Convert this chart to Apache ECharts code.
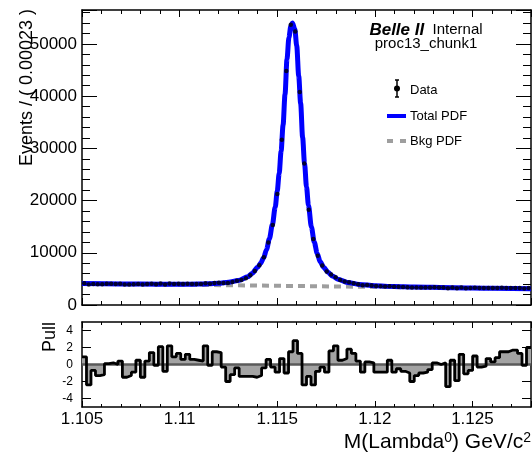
<!DOCTYPE html>
<html>
<head>
<meta charset="utf-8">
<script src="https://cdn.jsdelivr.net/npm/echarts@6/dist/echarts.min.js"></script>
<style>
html,body{margin:0;padding:0;background:#fff;}
#c{width:532px;height:455px;}
</style>
</head>
<body>
<div id="c"></div>
<script>
// ---- binning (from axis title: Events / (0.00023), 100 bins) ----
const xMin = 1.105;
const xMax = 1.128;
const binWidth = 0.00023;

// ---- data: events per bin ----
const dataCounts = [
  4161, 3940, 4041, 3994, 3991, 4066, 4064, 4042, 4060, 3932,
  3937, 3955, 4038, 3905, 4019, 4078, 3978, 4111, 3925, 4113,
  4030, 4053, 4012, 4055, 4025, 4029, 4036, 4177, 4062, 4207,
  4260, 4233, 4233, 4410, 4623, 4798, 5135, 5675, 6494, 7613,
  9159, 11992, 15301, 21247, 31643, 44798, 53695, 52375, 40790, 27122,
  18220, 12626, 9423, 7575, 6418, 5834, 5300, 4777, 4509, 4364,
  4167, 3978, 3806, 3807, 3736, 3620, 3582, 3547, 3600, 3487,
  3485, 3445, 3412, 3332, 3356, 3361, 3353, 3356, 3390, 3364,
  3363, 3186, 3354, 3203, 3369, 3227, 3238, 3324, 3240, 3234,
  3274, 3240, 3259, 3288, 3276, 3277, 3266, 3234, 3145, 3253
];

// ---- pull per bin ----
const pullValues = [
   0.9, -2.4, -0.7, -1.3, -1.2,  0.1,  0.2,  0.0,  0.4, -1.5,
  -1.3, -0.9,  0.5, -1.5,  0.4,  1.4, -0.1,  2.1, -0.8,  2.2,
   0.9,  1.3,  0.6,  1.2,  0.6,  0.5,  0.4,  2.2, -0.1,  1.5,
   1.4, -0.3, -2.0, -1.2, -0.4, -1.4, -1.4, -1.4, -1.5, -1.3,
  -0.4,  0.6, -0.3, -0.9,  0.7, -1.0,  1.5,  2.8,  1.3, -2.4,
  -1.4, -2.4, -0.8, -0.3, -0.9,  1.6,  2.2,  0.5,  0.7,  1.8,
   1.3,  0.4, -0.9,  0.3,  0.2, -0.9, -0.9, -0.9,  0.5, -0.9,
  -0.5, -0.8, -1.0, -2.0, -1.3, -1.0, -0.9, -0.6,  0.2,  0.0,
   0.2, -2.6,  0.5, -1.9,  1.2, -1.1, -0.7,  1.0, -0.3, -0.2,
   0.7,  0.3,  0.8,  1.5,  1.5,  1.7,  1.7,  1.3, -0.1,  2.0
];

// ---- Total PDF curve (mass, events) ----
const pdfMass = [
  1.105, 1.107, 1.109, 1.110, 1.111, 1.1115, 1.112, 1.1125, 1.113, 1.1135,
  1.1137, 1.1140, 1.11415, 1.1143, 1.11445, 1.1146, 1.11475, 1.1149, 1.1150, 1.1151,
  1.1152, 1.1153, 1.1154, 1.1155, 1.1156, 1.1157, 1.11578, 1.1159, 1.1160, 1.1161,
  1.1162, 1.1163, 1.1164, 1.1165, 1.1166, 1.11675, 1.1169, 1.11705, 1.1172, 1.1174,
  1.1176, 1.11785, 1.1181, 1.1186, 1.1192, 1.120, 1.121, 1.122, 1.124, 1.126,
  1.128
];
const pdfValues = [
  4108, 4034, 3979, 3971, 4002, 4056, 4155, 4364, 4683, 5392,
  6014, 7221, 8005, 9008, 10582, 12695, 15349, 18783, 21778, 25174,
  29520, 34466, 40361, 47057, 51250, 53450, 54000, 52841, 49636, 43882,
  38628, 32143, 27119, 22605, 19111, 14955, 12000, 9872, 8286, 7137,
  6269, 5503, 4948, 4327, 3932, 3688, 3541, 3444, 3324, 3225,
  3135
];

// ---- Background PDF (mass, events) ----
const bkgMass = [1.105, 1.128];
const bkgValues = [4100, 3130];

// ---- tick label positions for pull axis ----
const pullTicks = [-4, -2, 0, 2, 4];

const FONT = 'Liberation Sans, Arial, Helvetica, sans-serif';

const dataPts = dataCounts.map((v, k) => [xMin + binWidth * (k + 0.5), v]);
const pdfPts = pdfMass.map((m, i) => [m, pdfValues[i]]);
const bkgPts = bkgMass.map((m, i) => [m, bkgValues[i]]);
const pullSteps = pullValues.map((v, k) => [xMin + binWidth * k, v]);
pullSteps.push([xMax, pullValues[pullValues.length - 1]]);

function xAxisCfg(grid, pos, labels) {
  return {
    type: 'value', gridIndex: grid, position: pos,
    min: xMin, max: xMax, interval: 0.005,
    axisLine: {show: true, onZero: false, lineStyle: {color: '#000', width: 1.5}},
    axisTick: {show: true, inside: true, length: grid === 0 ? 7 : 6, lineStyle: {color: '#000', width: 1}},
    minorTick: {show: true, splitNumber: 5, length: grid === 0 ? 4 : 3, lineStyle: {color: '#000', width: 1}},
    splitLine: {show: false}, minorSplitLine: {show: false},
    axisLabel: labels ? {show: true, color: '#000', fontSize: 17, fontFamily: FONT, margin: 4,
      showMaxLabel: false, formatter: v => String(+v.toFixed(4))} : {show: false}
  };
}

const option = {
  animation: false,
  backgroundColor: '#fff',
  grid: [
    {left: 82, right: 1, top: 10, bottom: 150, containLabel: false, outerBoundsMode: 'none'},
    {left: 82, right: 1, top: 322, bottom: 48, containLabel: false, outerBoundsMode: 'none'}
  ],
  xAxis: [
    xAxisCfg(0, 'bottom', false),
    xAxisCfg(0, 'top', false),
    xAxisCfg(1, 'bottom', true),
    xAxisCfg(1, 'top', false)
  ],
  yAxis: [
    {
      type: 'value', gridIndex: 0, position: 'left', min: 0, max: 56500, interval: 10000,
      axisLine: {show: true, onZero: false, lineStyle: {color: '#000', width: 1.5}},
      axisTick: {show: true, inside: true, length: 15, lineStyle: {color: '#000', width: 1}},
      minorTick: {show: true, splitNumber: 5, length: 8, lineStyle: {color: '#000', width: 1}},
      splitLine: {show: false}, minorSplitLine: {show: false},
      axisLabel: {show: true, color: '#000', fontSize: 17, fontFamily: FONT, margin: 5, showMaxLabel: false,
        formatter: v => String(v)}
    },
    {
      type: 'value', gridIndex: 0, position: 'right', min: 0, max: 56500, interval: 10000,
      axisLine: {show: true, onZero: false, lineStyle: {color: '#000', width: 1.5}},
      axisTick: {show: true, inside: true, length: 15, lineStyle: {color: '#000', width: 1}},
      minorTick: {show: true, splitNumber: 5, length: 8, lineStyle: {color: '#000', width: 1}},
      splitLine: {show: false}, minorSplitLine: {show: false},
      axisLabel: {show: false}
    },
    {
      type: 'value', gridIndex: 1, position: 'left', min: -5, max: 5,
      axisLine: {show: true, onZero: false, lineStyle: {color: '#000', width: 1.5}},
      axisTick: {show: true, inside: true, length: 9, customValues: pullTicks, lineStyle: {color: '#000', width: 1}},
      splitLine: {show: false},
      axisLabel: {show: true, customValues: pullTicks, color: '#000', fontSize: 12, fontFamily: FONT, margin: 9,
        formatter: v => String(v)}
    },
    {
      type: 'value', gridIndex: 1, position: 'right', min: -5, max: 5,
      axisLine: {show: true, onZero: false, lineStyle: {color: '#000', width: 1.5}},
      axisTick: {show: true, inside: true, length: 9, customValues: pullTicks, lineStyle: {color: '#000', width: 1}},
      splitLine: {show: false},
      axisLabel: {show: false}
    }
  ],
  series: [
    {
      name: 'Bkg PDF', type: 'line', xAxisIndex: 0, yAxisIndex: 0, data: bkgPts,
      showSymbol: false, symbol: 'none', z: 2, silent: true,
      lineStyle: {color: '#9e9e9e', width: 4, type: [7, 5]}
    },
    {
      name: 'Total PDF', type: 'line', xAxisIndex: 0, yAxisIndex: 0, data: pdfPts,
      smooth: 0.3, smoothMonotone: 'x', showSymbol: false, symbol: 'none', z: 3, silent: true,
      lineStyle: {color: '#0000ff', width: 5}
    },
    {
      name: 'Data', type: 'scatter', xAxisIndex: 0, yAxisIndex: 0, data: dataPts,
      symbol: 'circle', symbolSize: 4.5, z: 4, silent: true,
      itemStyle: {color: '#000'}
    },
    {
      name: 'PullFill', type: 'line', xAxisIndex: 2, yAxisIndex: 2, data: pullSteps, step: 'end',
      showSymbol: false, symbol: 'none', z: 2, silent: true,
      lineStyle: {width: 0, opacity: 0},
      areaStyle: {color: '#a3a3a3', opacity: 1}
    },
    {
      name: 'Zero', type: 'line', xAxisIndex: 2, yAxisIndex: 2, data: [[xMin, 0], [xMax, 0]],
      showSymbol: false, symbol: 'none', z: 3, silent: true,
      lineStyle: {color: '#5a5a5a', width: 2.5}
    },
    {
      name: 'Pull', type: 'line', xAxisIndex: 2, yAxisIndex: 2, data: pullSteps, step: 'end',
      showSymbol: false, symbol: 'none', z: 4, silent: true,
      lineStyle: {color: '#000', width: 2.8}
    }
  ],
  graphic: [
    {type: 'text', x: 27, y: 9, rotation: Math.PI / 2, z: 10,
      style: {text: 'Events / ( 0.00023 )', fontSize: 18, fontFamily: FONT, fill: '#000',
        align: 'right', verticalAlign: 'middle', textAlign: 'right', textVerticalAlign: 'middle'}},
    {type: 'text', x: 50, y: 322, rotation: Math.PI / 2, z: 10,
      style: {text: 'Pull', fontSize: 18, fontFamily: FONT, fill: '#000',
        align: 'right', verticalAlign: 'middle', textAlign: 'right', textVerticalAlign: 'middle'}},
    {type: 'text', x: 531, y: 442, z: 10,
      style: {text: '{a|M(Lambda}{s|0}{a|) GeV/c}{s|2}', fill: '#000',
        align: 'right', verticalAlign: 'middle', textAlign: 'right', textVerticalAlign: 'middle',
        rich: {
          a: {fontSize: 21, fontFamily: FONT, fill: '#000', verticalAlign: 'bottom'},
          s: {fontSize: 14, fontFamily: FONT, fill: '#000', verticalAlign: 'top'}
        }}},
    {type: 'text', x: 426, y: 30, z: 10,
      style: {text: '{b|Belle II}{n|  Internal}', fill: '#000',
        align: 'center', verticalAlign: 'middle', textAlign: 'center', textVerticalAlign: 'middle',
        rich: {
          b: {fontSize: 17, fontFamily: FONT, fontWeight: 'bold', fontStyle: 'italic', fill: '#000'},
          n: {fontSize: 15, fontFamily: FONT, fill: '#000'}
        }}},
    {type: 'text', x: 426, y: 44, z: 10,
      style: {text: 'proc13_chunk1', fontSize: 15, fontFamily: FONT, fill: '#000',
        align: 'center', verticalAlign: 'middle', textAlign: 'center', textVerticalAlign: 'middle'}},
    // legend: Data
    {type: 'line', z: 10, shape: {x1: 397, y1: 80, x2: 397, y2: 97}, style: {stroke: '#000', lineWidth: 1.5}},
    {type: 'line', z: 10, shape: {x1: 395, y1: 80, x2: 399, y2: 80}, style: {stroke: '#000', lineWidth: 1.5}},
    {type: 'line', z: 10, shape: {x1: 395, y1: 97, x2: 399, y2: 97}, style: {stroke: '#000', lineWidth: 1.5}},
    {type: 'circle', z: 11, shape: {cx: 397, cy: 88.5, r: 3}, style: {fill: '#000'}},
    {type: 'text', x: 410, y: 90, z: 10,
      style: {text: 'Data', fontSize: 13, fontFamily: FONT, fill: '#000',
        align: 'left', verticalAlign: 'middle', textAlign: 'left', textVerticalAlign: 'middle'}},
    // legend: Total PDF
    {type: 'line', z: 10, shape: {x1: 387, y1: 116, x2: 406, y2: 116}, style: {stroke: '#0000ff', lineWidth: 4}},
    {type: 'text', x: 410, y: 116, z: 10,
      style: {text: 'Total PDF', fontSize: 13, fontFamily: FONT, fill: '#000',
        align: 'left', verticalAlign: 'middle', textAlign: 'left', textVerticalAlign: 'middle'}},
    // legend: Bkg PDF
    {type: 'line', z: 10, shape: {x1: 387, y1: 141, x2: 406, y2: 141},
      style: {stroke: '#9e9e9e', lineWidth: 4, lineDash: [6, 7]}},
    {type: 'text', x: 410, y: 141, z: 10,
      style: {text: 'Bkg PDF', fontSize: 13, fontFamily: FONT, fill: '#000',
        align: 'left', verticalAlign: 'middle', textAlign: 'left', textVerticalAlign: 'middle'}}
  ]
};

const chart = echarts.init(document.getElementById('c'), null, {renderer: 'canvas', width: 532, height: 455});
chart.setOption(option);
</script>
</body>
</html>
